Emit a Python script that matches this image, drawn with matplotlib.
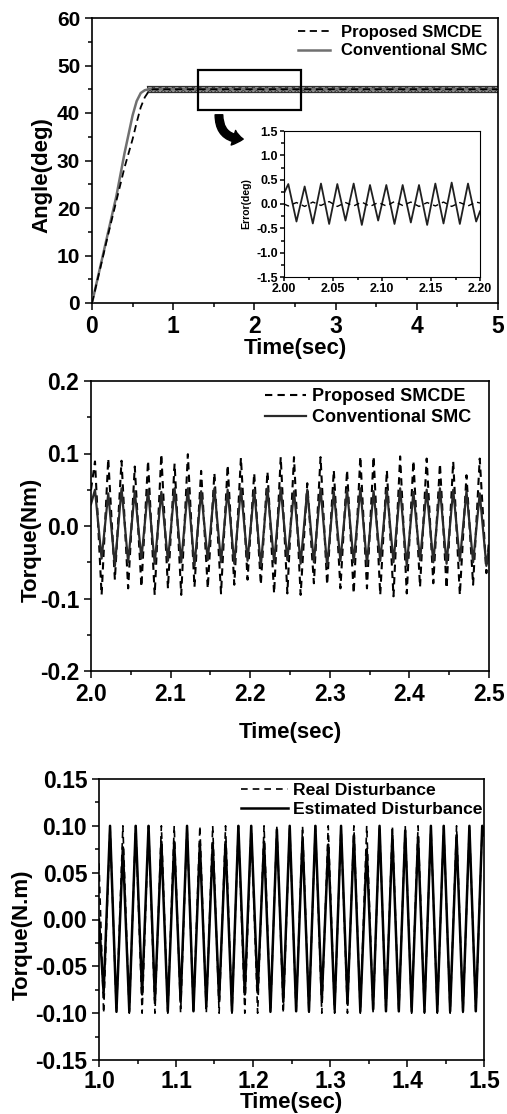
import numpy as np
import matplotlib
matplotlib.use('Agg')
import matplotlib.pyplot as plt
from matplotlib.ticker import MultipleLocator, FormatStrFormatter
from matplotlib.patches import Rectangle, FancyArrowPatch

plt.rcParams['font.family'] = ['Liberation Sans', 'DejaVu Sans']
plt.rcParams['font.weight'] = 'bold'
plt.rcParams['axes.unicode_minus'] = False
plt.rcParams['hatch.linewidth'] = 0.6

# ---------------- Panel 1: angle response ----------------
t_conv = [0.0, 0.1, 0.2, 0.3, 0.4, 0.5, 0.55, 0.6, 0.65, 0.7, 5.0]
ang_conv = [0.0, 7.5, 15.0, 22.5, 31.5, 39.5, 42.5, 44.2, 44.8, 45.0, 45.0]
t_prop = [0.0, 0.1, 0.2, 0.3, 0.4, 0.5, 0.55, 0.6, 0.65, 0.7, 0.75, 5.0]
ang_prop = [0.0, 7.2, 14.5, 21.5, 28.5, 34.5, 38.0, 41.2, 43.3, 44.6, 45.0, 45.0]
band_t = [0.68, 5.0]
band_lo = [44.4, 44.4]
band_hi = [45.6, 45.6]
zoom_box = (1.3, 40.6, 2.57, 49.0)   # t0, y0, t1, y1

# inset: tracking error 2.00-2.20 s (alternating peak / trough extremes)
ins_t_first, ins_t_last = 2.0044, 2.1961
ins_conv_ext = [0.41, -0.36, 0.36, -0.40, 0.42, -0.41, 0.41, -0.34, 0.42, -0.43, 0.39, -0.34,
                0.39, -0.41, 0.39, -0.38, 0.39, -0.43, 0.42, -0.40, 0.44, -0.41, 0.42, -0.36]
ins_prop_ext = [-0.04, 0.03, -0.05, 0.04, -0.03, 0.05, -0.05, 0.03, -0.04, 0.04, -0.05, 0.03,
                -0.04, 0.05, -0.03, 0.04, -0.05, 0.03, -0.04, 0.04, -0.05, 0.03, -0.04, 0.04]
ins_start = (2.0, 0.22, 0.0)
ins_end = (2.2, -0.15, 0.02)

# ---------------- Panel 2: control torque 2.0-2.5 s ----------------
tq_t_first, tq_t_last = 2.005, 2.4967
tq_prop_peaks = [0.089, 0.093, 0.090, 0.082, 0.090, 0.099, 0.086, 0.099, 0.076, 0.073,
                 0.084, 0.094, 0.073, 0.075, 0.095, 0.095, 0.059, 0.095, 0.077, 0.077,
                 0.096, 0.096, 0.077, 0.096, 0.090, 0.093, 0.086, 0.089, 0.070, 0.093]
tq_prop_troughs = [-0.095, -0.074, -0.086, -0.084, -0.095, -0.086, -0.095, -0.084, -0.086, -0.093,
                   -0.081, -0.074, -0.081, -0.093, -0.093, -0.095, -0.079, -0.081, -0.086, -0.093,
                   -0.086, -0.095, -0.097, -0.093, -0.084, -0.079, -0.086, -0.095, -0.081, -0.065]
tq_conv_peaks = [0.050, 0.045, 0.052, 0.048, 0.050, 0.047, 0.052, 0.052, 0.048, 0.052,
                 0.050, 0.052, 0.050, 0.052, 0.053, 0.048, 0.050, 0.052, 0.047, 0.050,
                 0.052, 0.048, 0.050, 0.052, 0.047, 0.050, 0.052, 0.050, 0.048, 0.045]
tq_conv_troughs = [-0.045, -0.055, -0.050, -0.045, -0.052, -0.048, -0.050, -0.055, -0.047, -0.050,
                   -0.052, -0.048, -0.055, -0.050, -0.047, -0.052, -0.050, -0.055, -0.048, -0.050,
                   -0.052, -0.048, -0.050, -0.055, -0.047, -0.050, -0.052, -0.048, -0.050, -0.055]
tq_start = (2.0, 0.05, 0.03)    # t, proposed, conventional
tq_end = (2.5, -0.02, -0.03)

# ---------------- Panel 3: disturbance 1.0-1.5 s ----------------
ds_t_first, ds_t_last = 1.006, 1.4977
ds_real_troughs = [-0.10] * 30
ds_real_peaks = [0.10] * 30
ds_est_troughs = [-0.078, -0.098, -0.098, -0.080, -0.086, -0.098, -0.088, -0.098, -0.093, -0.086,
                  -0.098, -0.080, -0.078, -0.098, -0.088, -0.098, -0.098, -0.086, -0.096, -0.090,
                  -0.098, -0.096, -0.098, -0.098, -0.098, -0.098, -0.098, -0.098, -0.098, -0.098]
ds_est_peaks = [0.100, 0.077, 0.100, 0.100, 0.083, 0.083, 0.100, 0.081, 0.080, 0.083,
                0.100, 0.100, 0.083, 0.096, 0.100, 0.088, 0.100, 0.080, 0.100, 0.090,
                0.075, 0.100, 0.090, 0.095, 0.088, 0.100, 0.100, 0.090, 0.100, 0.100]
ds_start = (1.0, 0.06, 0.0)
ds_end = (1.5, 0.095, 0.09)


def interleave(a, b):
    out = []
    for x, y in zip(a, b):
        out += [x, y]
    return out


W, H = 507, 1114
fig = plt.figure(figsize=(W / 100, H / 100), dpi=100)


def rect(l, t, r, b):
    return [l / W, 1 - b / H, (r - l) / W, (b - t) / H]


def style(ax, xfs, yfs, major=5, minor=3):
    for s in ax.spines.values():
        s.set_linewidth(1.2)
    ax.tick_params(which='both', direction='out', width=1.1, top=False, right=False)
    ax.tick_params(axis='x', labelsize=xfs)
    ax.tick_params(axis='y', labelsize=yfs)
    ax.tick_params(which='major', length=major)
    ax.tick_params(which='minor', length=minor)
    for lab in ax.get_xticklabels() + ax.get_yticklabels():
        lab.set_fontweight('bold')


# ---------- top ----------
ax1 = fig.add_axes(rect(92, 18, 498, 303))
ax1.fill_between(band_t, band_lo, band_hi, facecolor='#a0a0a0', edgecolor='#202020', hatch='xxxxx',
                 linewidth=0.0, zorder=2)
ax1.plot(band_t, band_lo, color='#303030', lw=0.9, zorder=2)
ax1.plot(band_t, band_hi, color='#303030', lw=0.9, zorder=2)
ax1.plot(t_conv, ang_conv, color='#707070', lw=1.8, zorder=3, label='Conventional SMC')
ax1.plot(t_prop, ang_prop, color='black', lw=1.3, ls=(0, (4, 2.5)), zorder=4, label='Proposed SMCDE')
ax1.add_patch(Rectangle((zoom_box[0], zoom_box[1]), zoom_box[2] - zoom_box[0], zoom_box[3] - zoom_box[1],
                        fill=False, edgecolor='black', lw=1.6, zorder=5))
ax1.set_xlim(0, 5)
ax1.set_ylim(0, 60)
ax1.xaxis.set_major_locator(MultipleLocator(1))
ax1.xaxis.set_minor_locator(MultipleLocator(0.5))
ax1.yaxis.set_major_locator(MultipleLocator(10))
ax1.yaxis.set_minor_locator(MultipleLocator(5))
style(ax1, 16.5, 15)
ax1.set_xlabel('Time(sec)', fontsize=16, fontweight='bold')
ax1.set_ylabel('Angle(deg)', fontsize=16, fontweight='bold')
ax1.xaxis.set_label_coords(0.5, -0.122)
ax1.yaxis.set_label_coords(-0.098, 0.449)
h = ax1.get_legend_handles_labels()
leg1 = ax1.legend([h[0][1], h[0][0]], [h[1][1], h[1][0]], loc='upper right', bbox_to_anchor=(0.975, 0.975),
                  frameon=False, handlelength=1.9, handletextpad=0.7, labelspacing=0.2,
                  borderpad=0, borderaxespad=0, prop={'weight': 'bold', 'size': 12})

arrow = FancyArrowPatch((219 / W, 1 - 112 / H), (246 / W, 1 - 139 / H), transform=fig.transFigure,
                        connectionstyle='arc3,rad=0.55',
                        arrowstyle='simple,head_length=0.65,head_width=1.0,tail_width=0.5',
                        mutation_scale=11, color='black', zorder=10)
fig.patches.append(arrow)

# inset
axi = fig.add_axes(rect(284, 131, 480, 277))
ins_t = list(np.linspace(ins_t_first, ins_t_last, len(ins_conv_ext)))
axi.plot([ins_start[0]] + ins_t + [ins_end[0]], [ins_start[1]] + ins_conv_ext + [ins_end[1]],
         color='#202020', lw=1.3)
axi.plot([ins_start[0]] + ins_t + [ins_end[0]], [ins_start[2]] + ins_prop_ext + [ins_end[2]],
         color='black', lw=1.0, ls=(0, (4, 3)))
axi.set_xlim(2.0, 2.2)
axi.set_ylim(-1.5, 1.5)
axi.xaxis.set_major_locator(MultipleLocator(0.05))
axi.xaxis.set_minor_locator(MultipleLocator(0.025))
axi.yaxis.set_major_locator(MultipleLocator(0.5))
axi.yaxis.set_minor_locator(MultipleLocator(0.25))
axi.xaxis.set_major_formatter(FormatStrFormatter('%.2f'))
axi.yaxis.set_major_formatter(FormatStrFormatter('%.1f'))
style(axi, 9, 9, major=3, minor=2)
for s in axi.spines.values():
    s.set_linewidth(0.8)
axi.tick_params(axis='both', pad=1.5)
axi.set_ylabel('Error(deg)', fontsize=7.5, fontweight='bold')
axi.yaxis.set_label_coords(-0.168, 0.5)

# ---------- middle ----------
ax2 = fig.add_axes(rect(91, 381, 489, 671))
tq_t = list(np.linspace(tq_t_first, tq_t_last, 60))
ax2.plot([tq_start[0]] + tq_t + [tq_end[0]], [tq_start[1]] + interleave(tq_prop_peaks, tq_prop_troughs) + [tq_end[1]],
         color='black', lw=1.5, ls=(0, (3.5, 2.5)), label='Proposed SMCDE')
ax2.plot([tq_start[0]] + tq_t + [tq_end[0]], [tq_start[2]] + interleave(tq_conv_peaks, tq_conv_troughs) + [tq_end[2]],
         color='#2a2a2a', lw=1.6, label='Conventional SMC')
ax2.set_xlim(2.0, 2.5)
ax2.set_ylim(-0.2, 0.2)
ax2.xaxis.set_major_locator(MultipleLocator(0.1))
ax2.xaxis.set_minor_locator(MultipleLocator(0.05))
ax2.yaxis.set_major_locator(MultipleLocator(0.1))
ax2.yaxis.set_minor_locator(MultipleLocator(0.05))
ax2.xaxis.set_major_formatter(FormatStrFormatter('%.1f'))
ax2.yaxis.set_major_formatter(FormatStrFormatter('%.1f'))
style(ax2, 16.5, 16.5)
ax2.set_xlabel('Time(sec)', fontsize=16, fontweight='bold')
ax2.set_ylabel('Torque(Nm)', fontsize=16, fontweight='bold')
ax2.xaxis.set_label_coords(0.5, -0.176)
ax2.yaxis.set_label_coords(-0.123, 0.452)
ax2.legend(loc='upper right', bbox_to_anchor=(0.955, 0.975), frameon=False,
           handlelength=2.3, handletextpad=0.3, labelspacing=0.2, borderpad=0, borderaxespad=0,
           prop={'weight': 'bold', 'size': 13})

# ---------- bottom ----------
ax3 = fig.add_axes(rect(99, 779, 484, 1060))
ds_t = list(np.linspace(ds_t_first, ds_t_last, 60))
ax3.plot([ds_start[0]] + ds_t + [ds_end[0]], [ds_start[1]] + interleave(ds_real_troughs, ds_real_peaks) + [ds_end[1]],
         color='black', lw=1.2, ls=(0, (4, 3)), label='Real Disturbance')
ax3.plot([ds_start[0]] + ds_t + [ds_end[0]], [ds_start[2]] + interleave(ds_est_troughs, ds_est_peaks) + [ds_end[2]],
         color='black', lw=1.8, label='Estimated Disturbance')
ax3.set_xlim(1.0, 1.5)
ax3.set_ylim(-0.15, 0.15)
ax3.xaxis.set_major_locator(MultipleLocator(0.1))
ax3.xaxis.set_minor_locator(MultipleLocator(0.05))
ax3.yaxis.set_major_locator(MultipleLocator(0.05))
ax3.yaxis.set_minor_locator(MultipleLocator(0.025))
ax3.xaxis.set_major_formatter(FormatStrFormatter('%.1f'))
ax3.yaxis.set_major_formatter(FormatStrFormatter('%.2f'))
style(ax3, 16.5, 16.5)
ax3.tick_params(axis='x', pad=2)
ax3.set_xlabel('Time(sec)', fontsize=16, fontweight='bold')
ax3.set_ylabel('Torque(N.m)', fontsize=16, fontweight='bold')
ax3.xaxis.set_label_coords(0.5, -0.113)
ax3.yaxis.set_label_coords(-0.171, 0.445)
ax3.legend(loc='upper right', bbox_to_anchor=(0.997, 0.985), frameon=False,
           handlelength=2.7, handletextpad=0.3, labelspacing=0.2, borderpad=0, borderaxespad=0,
           prop={'weight': 'bold', 'size': 12.6})

fig.savefig('out.png', dpi=100)
